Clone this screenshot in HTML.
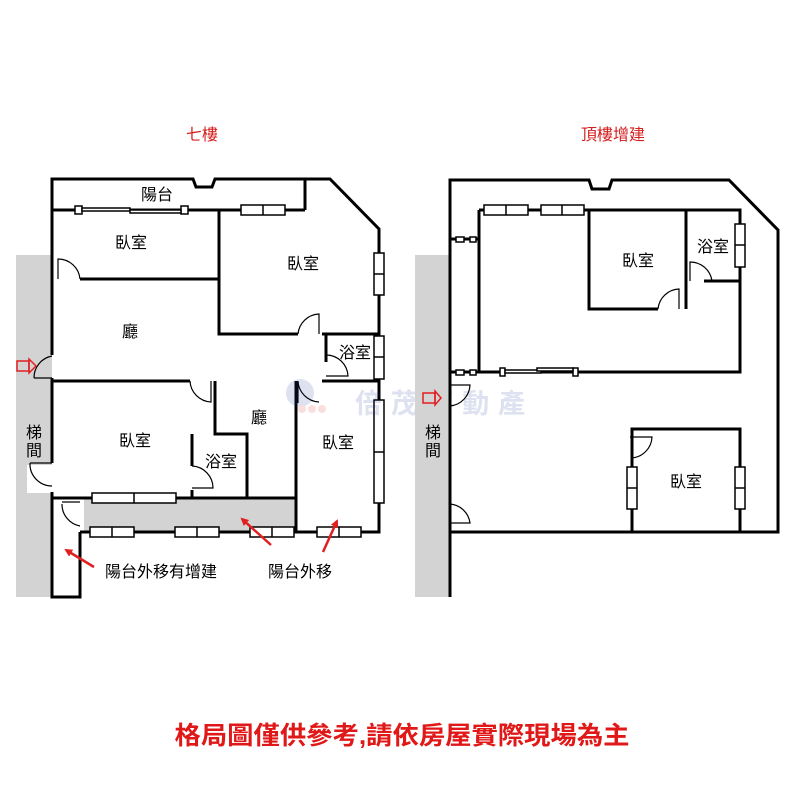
<!DOCTYPE html>
<html><head><meta charset="utf-8"><style>
html,body{margin:0;padding:0;background:#fff}
svg{display:block}
text{font-family:"Liberation Sans","Noto Sans CJK TC",sans-serif}
</style></head><body>
<svg width="800" height="800" viewBox="0 0 800 800" xmlns="http://www.w3.org/2000/svg">
<defs>
<marker id="ar" markerWidth="8" markerHeight="8" refX="6" refY="4" orient="auto" markerUnits="userSpaceOnUse"><path d="M0,0 L8,4 L0,8 z" fill="#e02020"/></marker>
</defs>
<rect width="800" height="800" fill="#fff"/>
<text x="202" y="140" font-size="16" fill="#d42020" text-anchor="middle">七樓</text>
<text x="613" y="140" font-size="16" fill="#d42020" text-anchor="middle">頂樓增建</text>

<!-- LEFT PLAN -->
<rect x="16" y="255" width="36" height="342" fill="#d3d3d3"/>
<rect x="27" y="465" width="25" height="28" fill="#fff"/>
<rect x="84" y="498" width="212" height="34" fill="#d3d3d3"/>
<g stroke="#000" stroke-width="3" fill="none">
<path d="M52,355 V179 H193 L196,187 H212 L215,179 H330 L379,229 V532 H80"/>
<path d="M305,179 V210"/>
<path d="M52,210 H305"/>
<path d="M52,378 V463 M52,492 V532"/>
<path d="M219,210 V334 H298 M322,334 H379"/>
<path d="M80,279 H219"/>
<path d="M326,334 V362 M326,381 H379"/>
<path d="M52,381 H190 M215,381 V434 H247 V498 M192,434 V466 M192,490 V498"/>
<path d="M296,381 V532 M322,381 H326"/>
<path d="M52,498 H296"/>
<path d="M52,498 V597 H80 V532"/>
</g>
<g stroke="#000" stroke-width="1.5" fill="#fff">
<rect x="241" y="205" width="44" height="10"/><line x1="263" y1="205" x2="263" y2="215"/>
<rect x="374" y="253" width="10" height="42"/><line x1="374" y1="274" x2="384" y2="274"/>
<rect x="374" y="336" width="10" height="43"/><line x1="374" y1="357" x2="384" y2="357"/>
<rect x="374" y="400" width="10" height="103"/><line x1="374" y1="452" x2="384" y2="452"/>
<rect x="92" y="493" width="84" height="10"/><line x1="134" y1="493" x2="134" y2="503"/>
<rect x="90" y="527" width="44" height="10"/><line x1="112" y1="527" x2="112" y2="537"/>
<rect x="175" y="527" width="44" height="10"/><line x1="197" y1="527" x2="197" y2="537"/>
<rect x="250" y="527" width="44" height="10"/><line x1="272" y1="527" x2="272" y2="537"/>
<rect x="317" y="527" width="44" height="10"/><line x1="339" y1="527" x2="339" y2="537"/>
<rect x="75" y="206" width="7" height="8"/><rect x="181" y="206" width="7" height="8"/>
<rect x="82" y="208" width="48" height="3"/><rect x="130" y="210" width="51" height="3"/>
</g>
<g stroke="#000" stroke-width="1.2" fill="none">
<path d="M58,279 V259 A22,22 0 0 1 80,279"/>
<path d="M319,334 V314 A22,22 0 0 0 298,334"/>
<path d="M34,378 H52 M52,356 A22,22 0 0 0 34,378"/>
<path d="M326,376 H348 A22,22 0 0 0 326,355"/>
<path d="M190,381 A22,22 0 0 0 211,402 V381"/>
<path d="M298,403 V381 A22,22 0 0 0 319,402"/>
<path d="M192,466 A22,22 0 0 1 213,488 H192"/>
<path d="M30,463 H52 M30,463 A22,22 0 0 0 52,486"/>
<path d="M62,502 H80 M62,504 A22,22 0 0 0 80,526"/>
</g>
<rect x="17" y="361" width="12" height="10" fill="none" stroke="#e02020" stroke-width="1.5"/>
<path d="M29,359 L36,366 L29,373 z" fill="none" stroke="#e02020" stroke-width="1.5"/>
<g font-size="16" fill="#000" text-anchor="middle">
<text x="157" y="200">陽台</text>
<text x="131" y="248">臥室</text>
<text x="303" y="269">臥室</text>
<text x="130" y="337">廳</text>
<text x="355" y="358">浴室</text>
<text x="259" y="423">廳</text>
<text x="135" y="446">臥室</text>
<text x="221" y="467">浴室</text>
<text x="338" y="448">臥室</text>
<text x="34" y="438">梯</text>
<text x="34" y="456">間</text>
<text x="161" y="577">陽台外移有增建</text>
<text x="300" y="577">陽台外移</text>
</g>
<g stroke="#e02020" stroke-width="2.5" marker-end="url(#ar)">
<line x1="94" y1="567" x2="66" y2="550"/>
<line x1="271" y1="545" x2="242" y2="519"/>
<line x1="323" y1="552" x2="337" y2="521"/>
</g>
<g opacity="0.15">
<circle cx="300" cy="393" r="14" fill="#2040a0"/>
<circle cx="302" cy="409" r="4" fill="#e02020"/><circle cx="312" cy="409" r="4" fill="#e02020"/><circle cx="322" cy="409" r="4" fill="#e02020"/>
<text x="355" y="413" font-size="27" font-weight="bold" fill="#2040a0" textLength="170" lengthAdjust="spacing">倍茂不動產</text>
</g>

<!-- RIGHT PLAN -->
<rect x="415" y="255" width="35" height="342" fill="#d3d3d3"/>
<g stroke="#000" stroke-width="3" fill="none">
<path d="M450,597 V180 H589 L592,189 H609 L612,180 H729 L778,230 V532 H450"/>
<path d="M479,210 V372 H740 V210 H479"/>
<path d="M589,210 V309 H658 M686,309 V210 M686,309 V258 M704,281 H740"/>
<path d="M632,532 V429 H740 V532 M632,450 V465"/>
<path d="M450,239 H479 M450,372 H479"/>
</g>
<g stroke="#000" stroke-width="1.5" fill="#fff">
<rect x="484" y="205" width="44" height="10"/><line x1="506" y1="205" x2="506" y2="215"/>
<rect x="541" y="205" width="43" height="10"/><line x1="562" y1="205" x2="562" y2="215"/>
<rect x="735" y="224" width="10" height="43"/><line x1="735" y1="245" x2="745" y2="245"/>
<rect x="627" y="467" width="10" height="42"/><line x1="627" y1="488" x2="637" y2="488"/>
<rect x="735" y="467" width="10" height="42"/><line x1="735" y1="488" x2="745" y2="488"/>
<rect x="500" y="368" width="5" height="8"/><rect x="573" y="368" width="5" height="8"/>
<rect x="505" y="370" width="36" height="3"/><rect x="537" y="368" width="36" height="3"/>
<rect x="456" y="237" width="8" height="5"/><rect x="470" y="237" width="6" height="5"/>
<rect x="456" y="370" width="8" height="5"/><rect x="470" y="370" width="6" height="5"/>
</g>
<g stroke="#000" stroke-width="1.2" fill="none">
<path d="M450,385 H470 A22,22 0 0 1 450,406"/>
<path d="M450,504 A22,22 0 0 1 470,523 H450"/>
<path d="M679,309 V289 A22,22 0 0 0 658,309"/>
<path d="M690,281 V262 A22,22 0 0 1 712,281"/>
<path d="M630,437 H652 A22,22 0 0 1 632,458"/>
</g>
<rect x="423" y="393" width="12" height="10" fill="none" stroke="#e02020" stroke-width="1.5"/>
<path d="M435,391 L441,398 L435,405 z" fill="none" stroke="#e02020" stroke-width="1.5"/>
<g font-size="16" fill="#000" text-anchor="middle">
<text x="638" y="266">臥室</text>
<text x="713" y="252">浴室</text>
<text x="686" y="487">臥室</text>
<text x="433" y="438">梯</text>
<text x="433" y="456">間</text>
</g>

<text x="402" y="744" font-size="25" font-weight="bold" fill="#e01818" text-anchor="middle" textLength="455" lengthAdjust="spacingAndGlyphs">格局圖僅供參考,請依房屋實際現場為主</text>
</svg>
</body></html>
